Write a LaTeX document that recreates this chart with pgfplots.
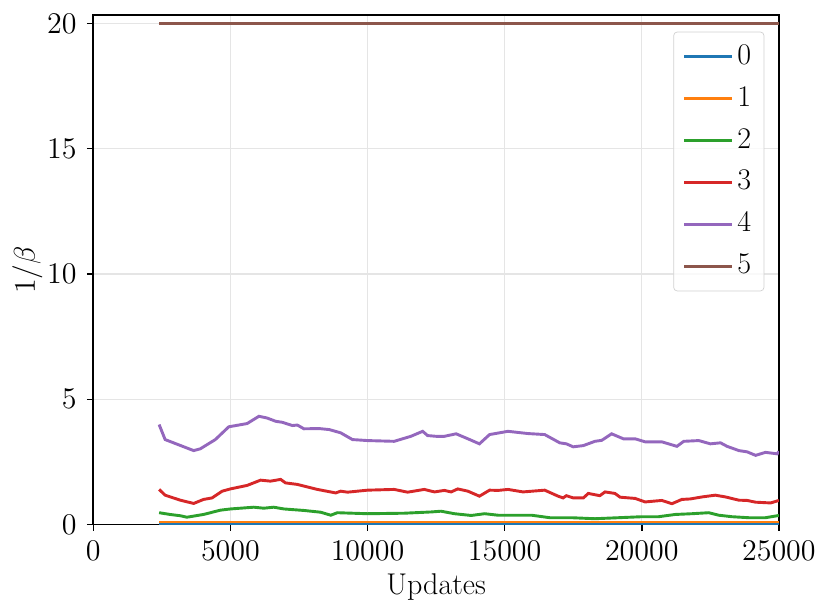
\RequirePackage{fix-cm}
\documentclass[border=0pt]{standalone}
\usepackage{pgfplots}
\pgfplotsset{compat=1.18}

\definecolor{c0}{HTML}{1F77B4}
\definecolor{c1}{HTML}{FF7F0E}
\definecolor{c2}{HTML}{2CA02C}
\definecolor{c3}{HTML}{D62728}
\definecolor{c4}{HTML}{9467BD}
\definecolor{c5}{HTML}{8C564B}

\newcommand{\figfont}{\fontsize{16.5}{19.8}\selectfont}

\begin{document}
\figfont
\begin{tikzpicture}
\begin{axis}[
    scale only axis,
    width=377pt, height=280pt,
    xmin=0, xmax=25000,
    ymin=0, ymax=20.33,
    xtick={0,5000,10000,15000,20000,25000},
    ytick={0,5,10,15,20},
    scaled x ticks=false,
    /pgf/number format/set thousands separator={},
    tick align=outside,
    xtick pos=left, ytick pos=left,
    major tick length=3.5pt,
    every tick/.style={black, line width=0.8pt},
    axis line style={line width=0.9pt},
    grid=major,
    grid style={gray!20, line width=0.6pt},
    xlabel={Updates},
    ylabel={$1/\beta$},
    ticklabel style={font=\figfont},
    label style={font=\figfont},
    xlabel style={yshift=4pt},
    ylabel style={yshift=-8.5pt},
    legend style={at={(1,1)}, anchor=north east, xshift=-8pt, yshift=-9pt,
        draw=gray!35, rounded corners=2pt, fill=white, fill opacity=0.8,
        text opacity=1, font=\figfont,
        row sep=5.6pt, inner xsep=5pt, inner ysep=5pt},
    legend cell align=left,
    legend image code/.code={
        \draw[#1, line width=1.6pt] (0pt,0pt) -- (18pt,0pt);
        \path (-3.5pt,0pt) -- (23pt,0pt);},
    every axis plot/.append style={line width=1.6pt},
]
\addplot[c0] coordinates {(2400,0.03) (25000,0.03)};
\addlegendentry{0}
\addplot[c1] coordinates {(2400,0.1) (25000,0.1)};
\addlegendentry{1}
\addplot[c2] coordinates {
(2400,0.47) (2800,0.40) (3170,0.35) (3410,0.29) (4020,0.40) (4630,0.57)
(5000,0.62) (5850,0.69) (6220,0.65) (6580,0.69) (6950,0.62) (7680,0.56)
(8290,0.49) (8660,0.37) (8900,0.47) (10000,0.43) (11340,0.45) (12315,0.50)
(12680,0.53) (13170,0.43) (13780,0.36) (14270,0.43) (14760,0.37) (15980,0.37)
(16650,0.27) (17440,0.27) (18290,0.23) (19140,0.27) (20000,0.31) (20610,0.31)
(21220,0.40) (21830,0.43) (22440,0.47) (22810,0.37) (23290,0.31) (23900,0.27)
(24510,0.27) (25000,0.36)
};
\addlegendentry{2}
\addplot[c3] coordinates {
(2400,1.40) (2620,1.17) (3170,0.97) (3660,0.84) (4020,1.00) (4330,1.06)
(4700,1.33) (5000,1.42) (5610,1.56) (6100,1.77) (6460,1.73) (6830,1.80)
(7010,1.66) (7440,1.60) (8170,1.40) (8840,1.26) (9020,1.33) (9270,1.29)
(10000,1.37) (10970,1.40) (11460,1.29) (12070,1.40) (12440,1.30) (12800,1.36)
(13050,1.30) (13290,1.42) (13660,1.33) (14080,1.13) (14450,1.37) (14760,1.36)
(15120,1.40) (15670,1.30) (16460,1.37) (16950,1.13) (17130,1.06) (17250,1.15)
(17500,1.06) (17870,1.06) (18050,1.24) (18470,1.15) (18660,1.30) (19020,1.24)
(19210,1.09) (19760,1.04) (20120,0.90) (20730,0.96) (21100,0.83) (21460,1.00)
(21770,1.02) (22200,1.10) (22680,1.17) (23050,1.10) (23540,0.97) (23840,0.96)
(24150,0.89) (24700,0.86) (25000,0.96)
};
\addlegendentry{3}
\addplot[c4] coordinates {
(2400,3.99) (2620,3.39) (3540,3.00) (3660,2.95) (3900,3.02) (4450,3.39)
(4940,3.90) (5610,4.03) (6040,4.32) (6340,4.25) (6650,4.12) (6890,4.08)
(7260,3.95) (7440,3.97) (7680,3.82) (8230,3.83) (8600,3.79) (9020,3.66)
(9450,3.39) (10000,3.35) (10970,3.32) (11580,3.52) (12010,3.72) (12190,3.55)
(12500,3.52) (12800,3.52) (13230,3.62) (13660,3.42) (14080,3.22) (14450,3.59)
(15120,3.72) (15850,3.63) (16460,3.59) (17010,3.26) (17250,3.22) (17500,3.10)
(17870,3.15) (18290,3.32) (18540,3.36) (18900,3.62) (19330,3.42) (19760,3.42)
(20120,3.30) (20730,3.30) (21280,3.12) (21530,3.32) (22080,3.35) (22500,3.22)
(22870,3.26) (23110,3.12) (23540,2.95) (23840,2.90) (24150,2.76) (24510,2.88)
(24940,2.82) (25000,2.92)
};
\addlegendentry{4}
\addplot[c5] coordinates {(2400,20) (25000,20)};
\addlegendentry{5}
\end{axis}
\pgfresetboundingbox
\path ([shift={(-51.3pt,-48.4pt)}]current axis.south west)
    rectangle ([shift={(28.1pt,8.4pt)}]current axis.north east);
\end{tikzpicture}
\end{document}
